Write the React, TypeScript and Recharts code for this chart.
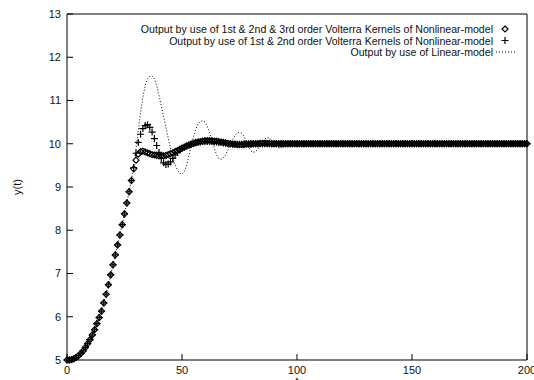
import React from "react";
import { LineChart, Line, XAxis, YAxis } from "recharts";

const FONT = "'Liberation Sans', Arial, Helvetica, sans-serif";

// time steps 0..200
const timeSteps = Array.from({ length: 201 }, (_, i) => i);

// 1st & 2nd & 3rd order Volterra kernels (diamonds)
const volterra3 = [
  5.0, 5.0, 5.01, 5.03, 5.06, 5.1, 5.15, 5.21, 5.29, 5.38,
  5.47, 5.58, 5.7, 5.84, 5.98, 6.13, 6.32, 6.52, 6.74, 6.97,
  7.2, 7.43, 7.66, 7.89, 8.13, 8.38, 8.63, 8.89, 9.15, 9.42,
  9.62, 9.76, 9.82, 9.83, 9.81, 9.79, 9.77, 9.75, 9.74, 9.73,
  9.72, 9.72, 9.72, 9.73, 9.75, 9.77, 9.79, 9.82, 9.84, 9.87,
  9.9, 9.92, 9.95, 9.97, 9.99, 10.01, 10.03, 10.04, 10.05, 10.06,
  10.07, 10.07, 10.07, 10.07, 10.06, 10.06, 10.05, 10.04, 10.03, 10.02,
  10.01, 10.0, 9.99, 9.99, 9.98, 9.98, 9.98, 9.98, 9.99, 9.99,
  9.99, 10.0, 10.0, 10.0, 10.01, 10.01, 10.01, 10.01, 10.01, 10.0,
  10, 10, 10, 10, 10, 10, 10, 10, 10, 10,
  10, 10, 10, 10, 10, 10, 10, 10, 10, 10,
  10, 10, 10, 10, 10, 10, 10, 10, 10, 10,
  10, 10, 10, 10, 10, 10, 10, 10, 10, 10,
  10, 10, 10, 10, 10, 10, 10, 10, 10, 10,
  10, 10, 10, 10, 10, 10, 10, 10, 10, 10,
  10, 10, 10, 10, 10, 10, 10, 10, 10, 10,
  10, 10, 10, 10, 10, 10, 10, 10, 10, 10,
  10, 10, 10, 10, 10, 10, 10, 10, 10, 10,
  10, 10, 10, 10, 10, 10, 10, 10, 10, 10,
  10, 10, 10, 10, 10, 10, 10, 10, 10, 10,
  10, 10, 10, 10, 10, 10, 10, 10, 10, 10,
  10,
];

// 1st & 2nd order Volterra kernels (crosses)
const volterra2 = [
  5.0, 5.0, 5.01, 5.03, 5.06, 5.1, 5.15, 5.21, 5.29, 5.38,
  5.47, 5.58, 5.7, 5.84, 5.98, 6.13, 6.32, 6.52, 6.74, 6.97,
  7.2, 7.43, 7.66, 7.89, 8.13, 8.38, 8.63, 8.89, 9.15, 9.45,
  9.78, 10.03, 10.22, 10.35, 10.42, 10.44, 10.38, 10.27, 10.12, 9.96,
  9.8, 9.66, 9.56, 9.52, 9.53, 9.58, 9.66, 9.74, 9.8, 9.85,
  9.89, 9.92, 9.95, 9.97, 9.99, 10.01, 10.02, 10.03, 10.04, 10.05,
  10.05, 10.05, 10.05, 10.05, 10.04, 10.04, 10.03, 10.03, 10.02, 10.01,
  10.0, 10.0, 9.99, 9.99, 9.99, 9.99, 9.99, 10.0, 10.0, 10.0,
  10, 10, 10, 10, 10, 10, 10, 10, 10, 10,
  10, 10, 10, 10, 10, 10, 10, 10, 10, 10,
  10, 10, 10, 10, 10, 10, 10, 10, 10, 10,
  10, 10, 10, 10, 10, 10, 10, 10, 10, 10,
  10, 10, 10, 10, 10, 10, 10, 10, 10, 10,
  10, 10, 10, 10, 10, 10, 10, 10, 10, 10,
  10, 10, 10, 10, 10, 10, 10, 10, 10, 10,
  10, 10, 10, 10, 10, 10, 10, 10, 10, 10,
  10, 10, 10, 10, 10, 10, 10, 10, 10, 10,
  10, 10, 10, 10, 10, 10, 10, 10, 10, 10,
  10, 10, 10, 10, 10, 10, 10, 10, 10, 10,
  10, 10, 10, 10, 10, 10, 10, 10, 10, 10,
  10, 10, 10, 10, 10, 10, 10, 10, 10, 10,
  10,
];

// Linear model (dotted)
const linearModel = [
  5.0, 5.0, 5.01, 5.03, 5.06, 5.1, 5.15, 5.21, 5.29, 5.38,
  5.47, 5.58, 5.7, 5.84, 5.98, 6.13, 6.32, 6.52, 6.74, 6.97,
  7.2, 7.43, 7.66, 7.89, 8.13, 8.38, 8.63, 8.89, 9.15, 9.48,
  9.88, 10.3, 10.72, 11.08, 11.34, 11.5, 11.56, 11.57, 11.5, 11.34,
  11.12, 10.88, 10.63, 10.38, 10.13, 9.9, 9.7, 9.52, 9.39, 9.32,
  9.3, 9.35, 9.5, 9.72, 9.95, 10.17, 10.34, 10.46, 10.52, 10.53,
  10.5, 10.4, 10.25, 10.08, 9.9, 9.75, 9.66, 9.64, 9.67, 9.75,
  9.86, 9.98, 10.09, 10.19, 10.25, 10.27, 10.24, 10.16, 10.04, 9.92,
  9.83, 9.8, 9.82, 9.88, 9.96, 10.05, 10.11, 10.14, 10.13, 10.08,
  10.01, 9.95, 9.91, 9.9, 9.92, 9.96, 10.0, 10.03, 10.05, 10.05,
  10.03, 10.01, 9.99, 9.98, 9.98, 9.99, 10, 10, 10, 10,
  10, 10, 10, 10, 10, 10, 10, 10, 10, 10,
  10, 10, 10, 10, 10, 10, 10, 10, 10, 10,
  10, 10, 10, 10, 10, 10, 10, 10, 10, 10,
  10, 10, 10, 10, 10, 10, 10, 10, 10, 10,
  10, 10, 10, 10, 10, 10, 10, 10, 10, 10,
  10, 10, 10, 10, 10, 10, 10, 10, 10, 10,
  10, 10, 10, 10, 10, 10, 10, 10, 10, 10,
  10, 10, 10, 10, 10, 10, 10, 10, 10, 10,
  10, 10, 10, 10, 10, 10, 10, 10, 10, 10,
  10,
];

const xTicks = [0, 50, 100, 150, 200];
const yTicks = [5, 6, 7, 8, 9, 10, 11, 12, 13];

const legendLabels = [
  "Output by use of 1st & 2nd & 3rd order Volterra Kernels of Nonlinear-model",
  "Output by use of 1st & 2nd order Volterra Kernels of Nonlinear-model",
  "Output by use of Linear-model",
];

const data = timeSteps.map((t, i) => ({
  t,
  v3: volterra3[i],
  v2: volterra2[i],
  lin: linearModel[i],
}));

const Diamond = (props: any) => {
  const { cx, cy, index } = props;
  if (cx == null || cy == null) return <g key={`d${index}`} />;
  const r = 3;
  return (
    <path
      key={`d${index}`}
      d={`M${cx},${cy - r}L${cx + r},${cy}L${cx},${cy + r}L${cx - r},${cy}Z`}
      fill="none"
      stroke="#000"
      strokeWidth={1.2}
    />
  );
};

const Plus = (props: any) => {
  const { cx, cy, index } = props;
  if (cx == null || cy == null) return <g key={`p${index}`} />;
  const r = 3.5;
  return (
    <path
      key={`p${index}`}
      d={`M${cx - r},${cy}H${cx + r}M${cx},${cy - r}V${cy + r}`}
      fill="none"
      stroke="#000"
      strokeWidth={1.2}
    />
  );
};

const tickStyle = { fill: "#111", fontSize: 11, fontFamily: FONT };

export default function App() {
  return (
    <div style={{ position: "absolute", left: 0, top: 0, width: 534, height: 380, background: "#fff" }}>
      <LineChart
        width={534}
        height={380}
        data={data}
        margin={{ top: 13, right: 6, bottom: 0, left: 0 }}
      >
        <XAxis
          dataKey="t"
          type="number"
          domain={[0, 200]}
          ticks={xTicks}
          interval={0}
          height={20}
          tickSize={-6}
          tickMargin={12}
          axisLine={{ stroke: "#000" }}
          tickLine={{ stroke: "#000" }}
          tick={tickStyle}
          label={{
            content: ({ viewBox }: any) => (
              <text
                x={viewBox.x + viewBox.width / 2}
                y={viewBox.y + viewBox.height + 5}
                textAnchor="middle"
                fontSize={11}
                fontFamily={FONT}
                fill="#111"
              >
                t
              </text>
            ),
          }}
        />
        <XAxis
          xAxisId="top"
          orientation="top"
          type="number"
          domain={[0, 200]}
          ticks={xTicks}
          interval={0}
          height={1}
          tickSize={-6}
          axisLine={{ stroke: "#000" }}
          tickLine={{ stroke: "#000" }}
          tick={false}
        />
        <YAxis
          type="number"
          domain={[5, 13]}
          ticks={yTicks}
          interval={0}
          width={67}
          tickSize={-6}
          tickMargin={12}
          axisLine={{ stroke: "#000" }}
          tickLine={{ stroke: "#000" }}
          tick={tickStyle}
          label={{
            content: ({ viewBox }: any) => {
              const cx = viewBox.x + 17;
              const cy = viewBox.y + viewBox.height / 2;
              return (
                <text
                  x={cx}
                  y={cy}
                  transform={`rotate(-90 ${cx} ${cy})`}
                  textAnchor="middle"
                  dominantBaseline="central"
                  fontSize={11}
                  fontFamily={FONT}
                  fill="#111"
                >
                  y(t)
                </text>
              );
            },
          }}
        />
        <YAxis
          yAxisId="right"
          orientation="right"
          type="number"
          domain={[5, 13]}
          ticks={yTicks}
          interval={0}
          width={1}
          tickSize={-6}
          axisLine={{ stroke: "#000" }}
          tickLine={{ stroke: "#000" }}
          tick={false}
        />
        <Line
          dataKey="v3"
          stroke="none"
          dot={Diamond}
          activeDot={false}
          isAnimationActive={false}
        />
        <Line
          dataKey="v2"
          stroke="none"
          dot={Plus}
          activeDot={false}
          isAnimationActive={false}
        />
        <Line
          dataKey="lin"
          type="linear"
          stroke="#000"
          strokeWidth={1}
          strokeDasharray="1 2"
          dot={false}
          activeDot={false}
          isAnimationActive={false}
        />
      </LineChart>
      <svg
        width={534}
        height={380}
        style={{ position: "absolute", left: 0, top: 0, pointerEvents: "none" }}
      >
        {legendLabels.map((label, i) => (
          <text
            key={label}
            x={493}
            y={29 + i * 11.5}
            textAnchor="end"
            dominantBaseline="central"
            fontSize={10.6}
            fontFamily={FONT}
            fill="#111"
          >
            {label}
          </text>
        ))}
        <Diamond cx={505} cy={29} index="leg" />
        <Plus cx={505} cy={40.5} index="leg" />
        <line x1={496} y1={52} x2={516} y2={52} stroke="#000" strokeDasharray="1 2" />
      </svg>
    </div>
  );
}
